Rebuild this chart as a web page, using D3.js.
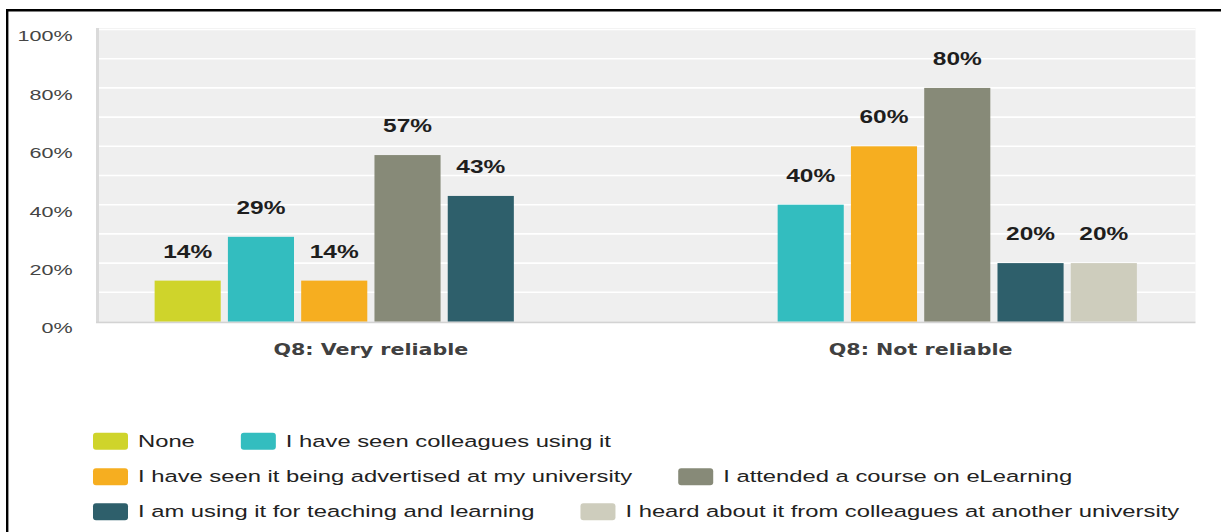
<!DOCTYPE html>
<html>
<head>
<meta charset="utf-8">
<script src="https://cdn.jsdelivr.net/npm/d3@7"></script>
<style>
  html, body { margin: 0; padding: 0; background: #fff; overflow: hidden; }
  svg { display: block; }
</style>
</head>
<body>
<svg id="chart" width="1221" height="532"></svg>
<script>
// Survey answers grouped by how reliable respondents judged eLearning (Q8)
const groups = ["Q8: Very reliable", "Q8: Not reliable"];
const seriesNames = [
  "None",
  "I have seen colleagues using it",
  "I have seen it being advertised at my university",
  "I attended a course on eLearning",
  "I am using it for teaching and learning",
  "I heard about it from colleagues at another university"
];
// Percent of respondents per group, one array per answer
const noneVals        = [14, 0];
const colleaguesVals  = [29, 40];
const advertisedVals  = [14, 60];
const courseVals      = [57, 80];
const teachingVals    = [43, 20];
const anotherUniVals  = [0, 20];
const yTickValues = [0, 20, 40, 60, 80, 100];

const seriesColors = ["#cfd42b", "#33bdbf", "#f6ae20", "#878a78", "#2e5f6b", "#cecdbd"];
const seriesValues = [noneVals, colleaguesVals, advertisedVals, courseVals, teachingVals, anotherUniVals];

const rows = groups.map((g, gi) => ({
  group: g,
  bars: seriesNames.map((s, si) => ({ series: s, value: seriesValues[si][gi], color: seriesColors[si] }))
}));

const svg = d3.select("#chart");

// Text in this chart is drawn wide; each label gets a horizontal stretch
function wide(sel, x, y, sx) {
  sel.attr("x", 0).attr("y", 0).attr("transform", `translate(${x},${y}) scale(${sx},1)`);
  return sel;
}

const plot = { left: 96, right: 1195.5, top: 28, bottom: 321.5 };

const x0 = d3.scaleBand().domain(groups).range([plot.left, plot.right]).padding(0);
const x1 = d3.scaleBand().domain(seriesNames).range([0, x0.bandwidth()])
  .paddingInner(0.098).paddingOuter(0.8);
const y = d3.scaleLinear().domain([0, 100]).range([321.5, 29.5]);

// Frame lines (top and left)
svg.append("line").attr("x1", 6).attr("x2", 1221).attr("y1", 10.2).attr("y2", 10.2)
  .attr("stroke", "#000").attr("stroke-width", 2.6);
svg.append("line").attr("x1", 7.2).attr("x2", 7.2).attr("y1", 9).attr("y2", 532)
  .attr("stroke", "#000").attr("stroke-width", 2.4);

// Plot background
svg.append("rect").attr("x", plot.left).attr("y", plot.top)
  .attr("width", plot.right - plot.left).attr("height", plot.bottom - plot.top)
  .attr("fill", "#efefef");

// Gridlines every 10%
svg.append("g").selectAll("line").data(d3.range(10, 101, 10)).join("line")
  .attr("x1", plot.left).attr("x2", plot.right)
  .attr("y1", d => y(d)).attr("y2", d => y(d))
  .attr("stroke", "#ffffff").attr("stroke-width", 1.6);

// Left edge and baseline of the plot
svg.append("line").attr("x1", plot.left + 1.5).attr("x2", plot.left + 1.5)
  .attr("y1", plot.top).attr("y2", plot.bottom + 1)
  .attr("stroke", "#dadada").attr("stroke-width", 3);
svg.append("line").attr("x1", plot.left).attr("x2", plot.right)
  .attr("y1", plot.bottom + 0.8).attr("y2", plot.bottom + 0.8)
  .attr("stroke", "#d3d3d3").attr("stroke-width", 1.8);

// Y axis labels
const yAxis = svg.append("g").attr("transform", `translate(${plot.left},0)`)
  .call(d3.axisLeft(y).tickValues(yTickValues).tickFormat(d => d + "%").tickSize(0));
yAxis.select(".domain").remove();
yAxis.selectAll("text")
  .attr("dy", null)
  .attr("font-family", "'Liberation Sans', Arial, sans-serif")
  .attr("font-size", 15.4)
  .attr("fill", "#454545")
  .attr("text-anchor", "end")
  .each(function () { wide(d3.select(this), -23.3, 11.4, 1.4); });

// Category labels
const xAxis = svg.append("g").attr("transform", "translate(0,0)")
  .call(d3.axisBottom(x0).tickSize(0));
xAxis.select(".domain").remove();
xAxis.selectAll("text")
  .attr("dy", null)
  .attr("font-family", "'DejaVu Sans', Verdana, sans-serif")
  .attr("font-weight", "bold")
  .attr("font-size", 15)
  .attr("fill", "#404040")
  .attr("text-anchor", "middle")
  .each(function () { wide(d3.select(this), 0, 354.5, 1.375); });

// Bars and value labels
const groupSel = svg.append("g").selectAll("g").data(rows).join("g")
  .attr("transform", d => `translate(${x0(d.group)},0)`);

const visible = d => d.bars.filter(b => b.value > 0);

groupSel.selectAll("rect").data(visible).join("rect")
  .attr("x", b => x1(b.series))
  .attr("width", x1.bandwidth())
  .attr("y", b => y(b.value))
  .attr("height", b => y(0) - y(b.value))
  .attr("fill", b => b.color);

groupSel.selectAll("text.val").data(visible).join("text")
  .attr("class", "val")
  .attr("font-family", "'Liberation Sans', Arial, sans-serif")
  .attr("font-weight", "bold")
  .attr("font-size", 17.5)
  .attr("fill", "#1e1e1e")
  .attr("text-anchor", "middle")
  .text(b => b.value + "%")
  .each(function (b) { wide(d3.select(this), x1(b.series) + x1.bandwidth() / 2, y(b.value) - 23, 1.4); });

// Legend, three rows of two entries
const legendRows = [[0, 1], [2, 3], [4, 5]];
const legendRowY = [441.3, 476.7, 511.7];
const legendSx = 1.46;
const legend = svg.append("g");
legendRows.forEach((row, ri) => {
  let cx = 93;
  row.forEach(si => {
    const item = legend.append("g").attr("transform", `translate(${cx},${legendRowY[ri]})`);
    item.append("rect").attr("x", 0).attr("y", -8.5).attr("width", 35).attr("height", 17)
      .attr("rx", 3).attr("fill", seriesColors[si]);
    const t = item.append("text")
      .attr("font-family", "'Liberation Sans', Arial, sans-serif")
      .attr("font-size", 16.3)
      .attr("fill", "#222")
      .text(seriesNames[si]);
    wide(t, 45, 5.5, legendSx);
    cx += 45 + t.node().getComputedTextLength() * legendSx + 46;
  });
});
</script>
</body>
</html>
